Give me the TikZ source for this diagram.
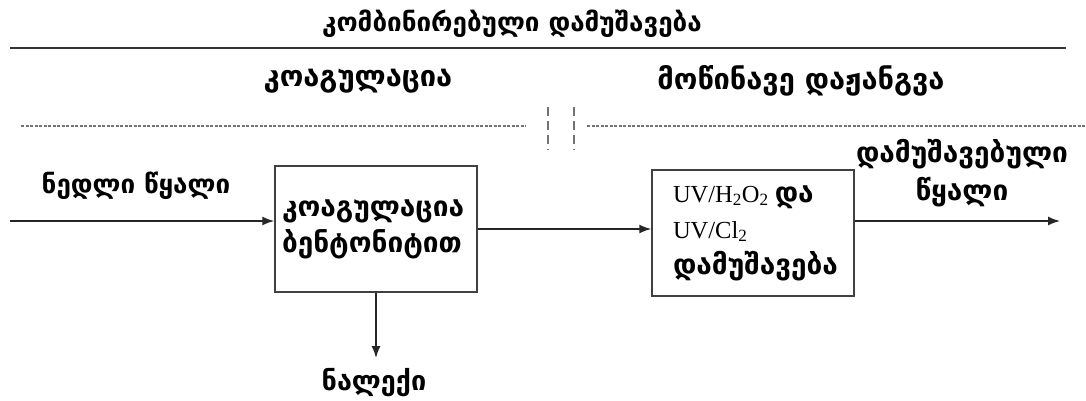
\documentclass[tikz,border=0pt]{standalone}
\usepackage{fontspec}
\setmainfont{Liberation Serif}
\newfontfamily\geo{DejaVu Sans}
\usetikzlibrary{arrows.meta}
\newcommand{\gsize}[1]{\geo\bfseries\fontsize{#1}{36}\selectfont}
\begin{document}
\begin{tikzpicture}[x=1pt,y=-1pt,
  txt/.style={inner sep=0pt},
  procbox/.style={draw=black!75, line width=1.5pt, minimum width=202pt, minimum height=126pt, align=left, inner sep=0pt},
  flow/.style={line width=1.5pt, draw=black!85, -{Latex[length=12pt,width=9pt]}},
  fine/.style={draw=black!55, line width=1.5pt, dash pattern=on 3pt off 1.5pt},
  gap/.style={draw=black!55, line width=1.5pt, dash pattern=on 9pt off 5pt}]
\useasboundingbox (0,0) rectangle (1086,400);
\fill[white] (0,0) rectangle (1086,400);
% headings
\node[txt, font=\gsize{26}] (title) at (512,24) {კომბინირებული დამუშავება};
\coordinate (sl) at (10,48);
\coordinate (sr) at (1066,48);
\draw[draw=black!80, line width=2.5pt] (sl) -- (sr);
\node[txt, font=\gsize{29}] (coag) at (358,81) {კოაგულაცია};
\node[txt, font=\gsize{29}] (adv) at (801,81) {მოწინავე დაჟანგვა};
\coordinate (dl1) at (21,126);
\coordinate (dl2) at (526,126);
\coordinate (dr1) at (587,126);
\coordinate (dr2) at (1086,126);
\draw[fine] (dl1) -- (dl2);
\draw[fine] (dr1) -- (dr2);
\coordinate (v1a) at (548,107);
\coordinate (v1b) at (548,150);
\coordinate (v2a) at (574,107);
\coordinate (v2b) at (574,150);
\draw[gap] (v1a) -- (v1b);
\draw[gap] (v2a) -- (v2b);
% boxes
\node[procbox, font=\gsize{28}] (b1) at (376,229) {\parbox{188pt}{კოაგულაცია\\ბენტონიტით}};
\node[procbox] (b2) at (753,233) {\parbox{160pt}{\fontsize{24.5}{36}\selectfont UV/H\textsubscript{2}O\textsubscript{2} {\gsize{28}და}\\UV/Cl\textsubscript{2}\\{\gsize{28}დამუშავება}}};
% labels
\node[txt, font=\gsize{26}] (raw) at (136,186) {ნედლი წყალი};
\node[txt, align=center, font=\geo\bfseries\fontsize{28}{38}\selectfont] (treated) at (962,173) {დამუშავებული\\წყალი};
\node[txt, font=\gsize{27}] (sludge) at (374,383) {ნალექი};
% connectors
\coordinate (in) at (10,221);
\draw[flow] (in) -- (in -| b1.west);
\draw[flow] (b1.east) -- (b1.east -| b2.west);
\coordinate (out) at (1060,221);
\draw[flow] (out -| b2.east) -- (out);
\coordinate (down) at (376,358);
\draw[flow] (b1.south) -- (down);
\end{tikzpicture}
\end{document}
